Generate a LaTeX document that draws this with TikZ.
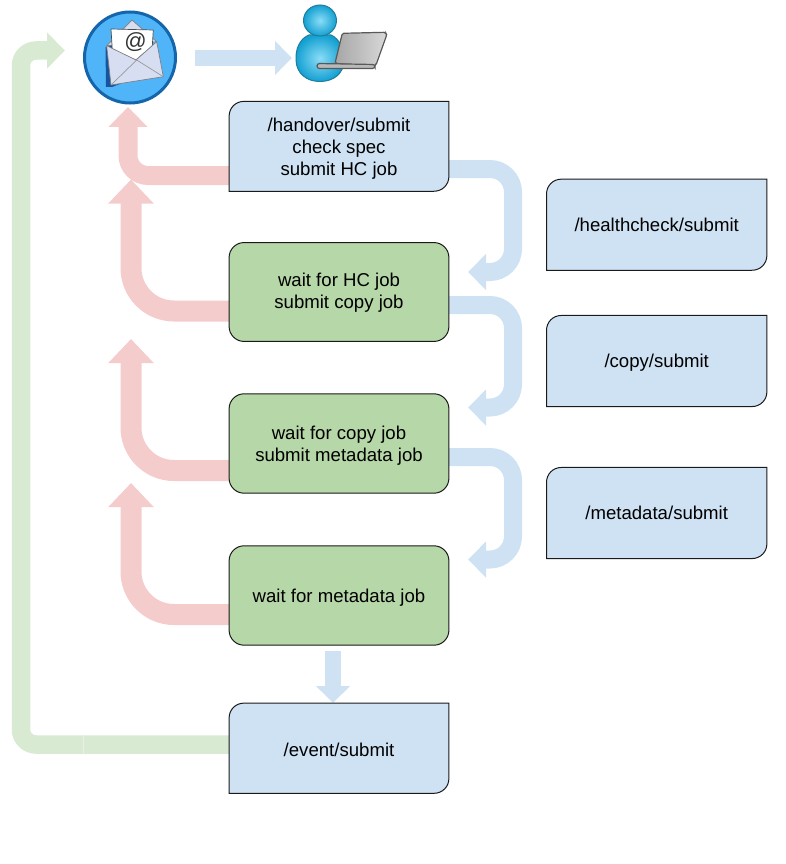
\documentclass[tikz,border=0pt]{standalone}
\usepackage{fontspec}
\setmainfont{Liberation Sans}
\usetikzlibrary{arrows.meta}
\definecolor{apiblue}{HTML}{CFE2F3}
\definecolor{jobgreen}{HTML}{B6D7A8}
\definecolor{backpink}{HTML}{F4CCCC}
\definecolor{mailgreen}{HTML}{D9EAD3}
\definecolor{seamgreen}{HTML}{E6F1E2}
\definecolor{edge}{HTML}{1A1A1A}
\definecolor{mailring}{HTML}{1565AA}
\definecolor{mailfill}{HTML}{50B4F8}
\definecolor{mailshadow}{HTML}{1555A0}
\definecolor{envelope}{HTML}{D7DEF2}
\definecolor{userline}{HTML}{1E7D9B}
\definecolor{userlight}{HTML}{8ADDF7}
\definecolor{userdark}{HTML}{14A0D2}
\pgfdeclarelayer{arrowlayer}
\pgfdeclarelayer{boxlayer}
\pgfsetlayers{arrowlayer,boxlayer,main}
\tikzset{
  boxtext/.style={align=center,font=\fontsize{18.6pt}{22pt}\selectfont,text=black,inner sep=0pt},
  boxline/.style={draw=edge,line width=1pt},
  bluearrow/.style={draw=apiblue,line width=18pt,rounded corners=23pt,-{Triangle[length=18pt,width=35pt]}},
  pinkarrow/.style={draw=backpink,line width=21pt,rounded corners=43pt,-{Triangle[length=24pt,width=44pt]}},
  pinkfirst/.style={draw=backpink,line width=19pt,rounded corners=20pt,-{Triangle[length=20pt,width=38pt]}},
  greenarrow/.style={draw=mailgreen,line width=18.5pt,rounded corners=15pt,-{Triangle[length=18pt,width=35pt]}},
  straightblue/.style={draw=apiblue,line width=16.5pt,-{Triangle[length=17pt,width=33pt]}},
  iconline/.style={draw=#1,line width=.7pt,line join=round}
}
% name, centre x, centre y, width, height, text, downward shift of the text
\newcommand{\apibox}[7]{%
  \node[minimum width=#4pt,minimum height=#5pt,inner sep=0pt] (#1) at (#2,#3) {};
  \node[boxtext] (#1text) at ([yshift=-#7pt]#1.center) {#6};
  \begin{pgfonlayer}{boxlayer}
  \draw[boxline,fill=apiblue]
    ([yshift=-15pt]#1.north west) .. controls ([yshift=-6.5pt]#1.north west) and ([xshift=6.5pt]#1.north west) .. ([xshift=15pt]#1.north west)
    -- (#1.north east)
    -- ([yshift=15pt]#1.south east) .. controls ([yshift=6.5pt]#1.south east) and ([xshift=-6.5pt]#1.south east) .. ([xshift=-15pt]#1.south east)
    -- (#1.south west) -- cycle;
  \end{pgfonlayer}}
\newcommand{\jobbox}[7]{%
  \node[minimum width=#4pt,minimum height=#5pt,inner sep=0pt] (#1) at (#2,#3) {};
  \node[boxtext] (#1text) at ([yshift=-#7pt]#1.center) {#6};
  \begin{pgfonlayer}{boxlayer}
  \draw[boxline,fill=jobgreen,rounded corners=15pt] (#1.south west) rectangle (#1.north east);
  \end{pgfonlayer}}
\begin{document}
\begin{tikzpicture}[x=1pt,y=-1pt]
\useasboundingbox (0,0) rectangle (785,864);

\apibox{handover}{339}{146.3}{219.4}{89.5}{/handover/submit\\check spec\\submit HC job}{2.15}
\jobbox{waithc}{339}{292}{219.4}{98.5}{wait for HC job\\submit copy job}{1.15}
\jobbox{waitcopy}{339}{443.5}{219.4}{99}{wait for copy job\\submit metadata job}{2.2}
\jobbox{waitmeta}{339}{595.5}{219.4}{99}{wait for metadata job}{1.95}
\apibox{event}{339}{748.2}{219.4}{89.8}{/event/submit}{1.15}
\apibox{health}{656.7}{224.7}{220}{90.7}{/healthcheck/submit}{0}
\apibox{copy}{656.7}{361}{220}{90.7}{/copy/submit}{1.45}
\apibox{metadata}{656.7}{513}{220}{90.7}{/metadata/submit}{0}

% mail icon
\node[circle,minimum size=94pt,inner sep=0pt] (mail) at (130,57.5) {};
\draw[draw=mailring,line width=3pt,fill=mailfill] (mail.center) circle (45.5pt);
\fill[mailshadow] (105.5,47) -- (106,87) -- (112,87) -- (135,78) -- (112,45) -- cycle;
\draw[iconline=gray,fill=envelope] (106.7,45.7) -- (132,20) -- (156.7,41.7) -- cycle;
\draw[iconline=gray!60!black,fill=white] (111,29) -- (153.3,30) -- (152.3,46) -- (136,60) -- (112.3,50) -- cycle;
\draw[iconline=gray,fill=envelope] (106.7,45.7) -- (136,60) -- (156.7,41.7) -- (163.3,76.7) -- (111,85) -- cycle;
\draw[iconline=gray!80!white] (111,85) -- (136.7,60) -- (163.3,76.7);
\node[font=\fontsize{22pt}{22pt}\selectfont,text=black!80,inner sep=0pt] (atsign) at (135.5,42.5) {@};

% person icon
\draw[draw=userline,line width=1pt,inner color=userlight,outer color=userdark]
  (309,35) .. controls (299,39) and (295.5,50) .. (296,60) .. controls (296.5,74) and (307,81.5) .. (320,81.5)
  .. controls (333,81.5) and (344,74) .. (344,60) .. controls (344,50) and (340,39) .. (331,35) -- cycle;
\draw[draw=userline,line width=1pt,inner color=userlight,outer color=userdark]
  (320,20.5) ellipse (16.5pt and 15.5pt);
\draw[draw=gray!70!black,line width=1.2pt,left color=gray!70,right color=gray!30,rounded corners=1.5pt]
  (342.3,33.3) -- (385.5,32.3) -- (386.7,35) -- (376,65) -- (373.3,66.5) -- (335,63.3) -- cycle;
\draw[draw=gray!70!black,line width=1.2pt,fill=gray!55,rounded corners=2.5pt]
  (317,63.5) -- (375,64.5) -- (375,68.5) -- (317,68.5) -- cycle;

% free ends and bends of connectors
\coordinate (usertip) at (292,58);
\coordinate (mailstart) at (195,58);
\coordinate (downstart) at (333,651);
\coordinate (downtip) at (333,703);
\coordinate (b1a) at (513,169);
\coordinate (b1b) at (513,272);
\coordinate (t1) at (468,272);
\coordinate (b2a) at (513,305);
\coordinate (b2b) at (513,407.5);
\coordinate (t2) at (468,407.5);
\coordinate (b3a) at (513,457);
\coordinate (b3b) at (513,559.5);
\coordinate (t3) at (468,559.5);
\coordinate (seamtop) at (83.5,735.5);
\coordinate (seambottom) at (83.5,753.5);
\coordinate (g1) at (21,744.5);
\coordinate (g2) at (21,50.5);
\coordinate (mailtip) at (65,50.5);
\coordinate (c1) at (128,175.5);
\coordinate (c2) at (131,311);
\coordinate (c3) at (131,470.5);
\coordinate (c4) at (131,614.5);
\coordinate (p1) at (128,107);
\coordinate (p2) at (131,179.5);
\coordinate (p3) at (131,339);
\coordinate (p4) at (131,483);

\begin{pgfonlayer}{arrowlayer}
\draw[straightblue] (mailstart) -- (usertip);
\draw[straightblue] (downstart) -- (downtip);
\draw[pinkfirst] (handover.west |- c1) -- (c1) -- (p1);
\draw[pinkarrow] (waithc.west |- c2) -- (c2) -- (p2);
\draw[pinkarrow] (waitcopy.west |- c3) -- (c3) -- (p3);
\draw[pinkarrow] (waitmeta.west |- c4) -- (c4) -- (p4);
\draw[bluearrow] (handover.east |- b1a) -- (b1a) -- (b1b) -- (t1);
\draw[bluearrow] (waithc.east |- b2a) -- (b2a) -- (b2b) -- (t2);
\draw[bluearrow] (waitcopy.east |- b3a) -- (b3a) -- (b3b) -- (t3);
\draw[greenarrow] (event.west |- g1) -- (g1) -- (g2) -- (mailtip);
\draw[seamgreen,line width=.6pt] (seamtop) -- (seambottom);
\end{pgfonlayer}
\end{tikzpicture}
\end{document}
